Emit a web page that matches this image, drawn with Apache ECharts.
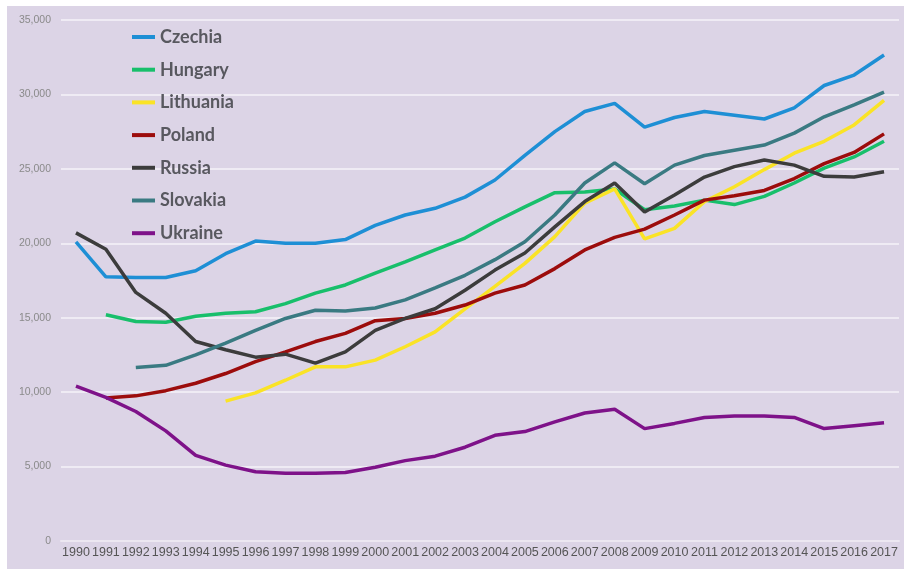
<!DOCTYPE html>
<html>
<head>
<meta charset="utf-8">
<script src="https://cdn.jsdelivr.net/npm/echarts@6/dist/echarts.min.js"></script>
<style>
  html, body { margin: 0; padding: 0; background: #ffffff; }
  #chart { position: absolute; left: 7px; top: 6px; width: 897px; height: 563px; }
</style>
</head>
<body>
<div id="chart"></div>
<script>
const years = ['1990', '1991', '1992', '1993', '1994', '1995', '1996', '1997', '1998', '1999',
  '2000', '2001', '2002', '2003', '2004', '2005', '2006', '2007', '2008', '2009',
  '2010', '2011', '2012', '2013', '2014', '2015', '2016', '2017']

const czechia = [20100, 17750, 17700, 17700, 18150, 19300, 20150, 20000, 20000, 20250,
  21200, 21900, 22350, 23100, 24250, 25900, 27500, 28850, 29400, 27800,
  28450, 28850, 28600, 28350, 29100, 30600, 31300, 32650]
const hungary = [null, 15200, 14750, 14700, 15100, 15300, 15400, 15950, 16650, 17200,
  18000, 18750, 19550, 20350, 21450, 22450, 23400, 23450, 23650, 22250,
  22500, 22900, 22600, 23150, 24050, 25050, 25800, 26850]
const lithuania = [null, null, null, null, null, 9400, 9950, 10800, 11700, 11700,
  12150, 13050, 14050, 15600, 17100, 18650, 20450, 22700, 23650, 20300,
  21000, 22800, 23800, 24950, 26050, 26850, 27950, 29600]
const poland = [null, 9600, 9750, 10100, 10600, 11250, 12050, 12700, 13400, 13950,
  14800, 14950, 15300, 15850, 16650, 17200, 18300, 19550, 20400, 20950,
  21900, 22900, 23200, 23550, 24350, 25350, 26100, 27350]
const russia = [20700, 19600, 16700, 15300, 13400, 12850, 12350, 12550, 11950, 12700,
  14150, 14950, 15600, 16850, 18200, 19350, 21100, 22800, 24050, 22100,
  23250, 24450, 25150, 25600, 25250, 24500, 24450, 24800]
const slovakia = [null, null, 11650, 11800, 12500, 13300, 14150, 14950, 15500, 15450,
  15650, 16200, 17000, 17850, 18900, 20100, 21900, 24050, 25400, 24000,
  25250, 25900, 26250, 26600, 27400, 28500, 29300, 30150]
const ukraine = [10400, 9650, 8700, 7400, 5750, 5100, 4650, 4550, 4550, 4600,
  4950, 5400, 5700, 6300, 7100, 7350, 8000, 8600, 8850, 7550,
  7900, 8300, 8400, 8400, 8300, 7550, 7750, 7950]

const countries = ['Czechia', 'Hungary', 'Lithuania', 'Poland', 'Russia', 'Slovakia', 'Ukraine']
const colors = ['#1e8fd5', '#18bf6b', '#fae326', '#9c0c0c', '#3c3c3c', '#3a7a82', '#7e1289']
const seriesData = [czechia, hungary, lithuania, poland, russia, slovakia, ukraine]

const yTicks = [0, 5000, 10000, 15000, 20000, 25000, 30000, 35000]

const chart = echarts.init(document.getElementById('chart'))

const option = {
  backgroundColor: '#dcd4e6',
  color: colors,
  animation: false,
  grid: {
    left: 54,
    right: 5,
    top: 14,
    bottom: 28
  },
  legend: {
    orient: 'vertical',
    left: 125,
    top: 21,
    padding: 0,
    icon: 'rect',
    itemWidth: 23,
    itemHeight: 4,
    itemGap: 12.7,
    data: countries,
    textStyle: {
      fontFamily: 'Lato',
      fontWeight: 'bold',
      fontSize: 18,
      lineHeight: 20,
      color: '#58585f'
    }
  },
  xAxis: {
    type: 'category',
    data: years,
    boundaryGap: true,
    axisTick: { show: false },
    axisLine: { lineStyle: { color: '#ece7f1', width: 2 } },
    axisLabel: {
      interval: 0,
      margin: 5,
      fontFamily: 'Liberation Sans',
      fontSize: 12.5,
      color: '#555555'
    }
  },
  yAxis: {
    type: 'value',
    min: yTicks[0],
    max: yTicks[yTicks.length - 1],
    interval: 5000,
    axisLine: { show: false },
    axisTick: { show: false },
    splitLine: { lineStyle: { color: '#efebf4', width: 2 } },
    axisLabel: {
      margin: 10,
      fontFamily: 'Liberation Sans',
      fontSize: 10.5,
      color: '#8a8a8a',
      formatter: v => v.toLocaleString('en-US')
    }
  },
  series: countries.map((name, i) => ({
    name: name,
    type: 'line',
    data: seriesData[i],
    symbol: 'none',
    connectNulls: false,
    lineStyle: { width: 3.5, color: colors[i] },
    itemStyle: { color: colors[i] }
  }))
}

chart.setOption(option)
</script>
</body>
</html>
